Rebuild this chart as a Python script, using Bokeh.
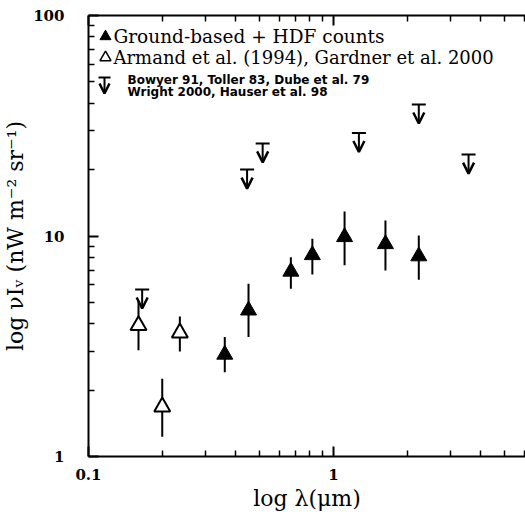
from bokeh.plotting import figure
from bokeh.models import (LogAxis, FixedTicker, CustomJSTickFormatter, ColumnDataSource,
                          Arrow, OpenHead, Label, Range1d)
from bokeh.embed import file_html
from bokeh.resources import INLINE

# ---------------- data ----------------
# Ground-based + HDF counts (filled triangles)
det_wl = [0.36, 0.45, 0.67, 0.82, 1.11, 1.63, 2.23]
det_val = [2.9, 4.6, 6.9, 8.2, 9.9, 9.2, 8.1]
det_lo = [2.41, 3.48, 5.76, 6.69, 7.37, 6.98, 6.33]
det_hi = [3.48, 6.07, 8.01, 9.71, 12.9, 11.75, 10.05]

# Armand et al. (1994), Gardner et al. 2000 (open triangles)
uv_wl = [0.160, 0.200, 0.236]
uv_val = [3.93, 1.68, 3.64]
uv_lo = [3.03, 1.23, 2.99]
uv_hi = [5.1, 2.25, 4.31]

# upper limits
lim_wl = [0.1656, 0.444, 0.514, 1.27, 2.23, 3.56]
lim_val = [5.72, 20.0, 26.3, 29.3, 39.5, 23.4]

x_major = [0.1, 1]
x_minor = [0.2, 0.3, 0.4, 0.5, 0.6, 0.7, 0.8, 0.9, 2, 3, 4, 5, 6]
y_major = [1, 10, 100]
y_minor = [2, 3, 4, 5, 6, 7, 8, 9, 20, 30, 40, 50, 60, 70, 80, 90]

# ---------------- layout helpers ----------------
FL, FT = 88, 15          # frame left / top in px
DX, DY = 245.0, 220.5    # px per decade
def px2x(px):
    return 10 ** ((px - FL) / DX - 1)
def py2y(py):
    return 10 ** ((456 - py) / DY)
ARROW_F = 10 ** (-19 / DY)   # arrow length of upper-limit symbols

SERIF = "DejaVu Serif"

p = figure(width=525, height=515, x_axis_type="log", y_axis_type="log",
           x_range=Range1d(0.1, 6.08), y_range=Range1d(1, 100),
           output_backend="svg", toolbar_location=None,
           min_border_left=88, min_border_right=0, min_border_top=15, min_border_bottom=59)
p.grid.visible = False
p.outline_line_color = None
p.background_fill_color = "white"
p.border_fill_color = "white"

fmt = CustomJSTickFormatter(code="return String(tick)")
blank = CustomJSTickFormatter(code="return ''")

def style_axis(ax, ticks, minor, show_labels):
    ax.ticker = FixedTicker(ticks=ticks, minor_ticks=minor)
    ax.axis_line_width = 2
    ax.axis_line_color = "black"
    ax.major_tick_in = 10
    ax.major_tick_out = 0
    ax.minor_tick_in = 6
    ax.minor_tick_out = 0
    ax.major_tick_line_width = 2
    ax.minor_tick_line_width = 1.5
    if show_labels:
        ax.formatter = fmt
        ax.major_label_text_font = SERIF
        ax.major_label_text_font_style = "bold"
        ax.major_label_text_font_size = "15px"
        ax.major_label_text_color = "black"
    else:
        ax.formatter = blank
        ax.major_label_text_font_size = "1px"
        ax.major_label_standoff = 0

style_axis(p.xaxis[0], x_major, x_minor, True)
style_axis(p.yaxis[0], y_major, y_minor, True)
p.xaxis[0].major_label_standoff = 12
p.yaxis[0].major_label_standoff = 24
p.xaxis[0].axis_label = "log λ(μm)"
p.yaxis[0].axis_label = "log νIᵥ (nW m⁻² sr⁻¹)"
for ax in (p.xaxis[0], p.yaxis[0]):
    ax.axis_label_text_font = SERIF
    ax.axis_label_text_font_style = "normal"
    ax.axis_label_text_color = "black"
p.xaxis[0].axis_label_text_font_size = "22px"
p.yaxis[0].axis_label_text_font_size = "22px"
p.xaxis[0].axis_label_standoff = 3
p.yaxis[0].axis_label_standoff = 2

top = LogAxis()
style_axis(top, x_major, x_minor, False)
p.add_layout(top, "above")

# ---------------- data marks ----------------
det = ColumnDataSource(dict(x=det_wl, y=det_val, lo=det_lo, hi=det_hi))
uv = ColumnDataSource(dict(x=uv_wl, y=uv_val, lo=uv_lo, hi=uv_hi))
lim = ColumnDataSource(dict(x=lim_wl, y=lim_val,
                            yend=[v * ARROW_F for v in lim_val]))

p.segment(x0="x", y0="lo", x1="x", y1="hi", source=det, line_color="black", line_width=2)
p.segment(x0="x", y0="lo", x1="x", y1="hi", source=uv, line_color="black", line_width=2)
p.scatter(x="x", y="y", source=det, marker="triangle", size=16,
          fill_color="black", line_color="black", line_width=1)
p.scatter(x="x", y="y", source=uv, marker="triangle", size=16,
          fill_color="white", line_color="black", line_width=2)

p.scatter(x="x", y="y", source=lim, marker="dash", size=14, line_color="black", line_width=2)
p.add_layout(Arrow(end=OpenHead(size=11, line_width=2.5, line_color="black"),
                   x_start="x", y_start="y", x_end="x", y_end="yend",
                   line_width=2, line_color="black", source=lim))

# ---------------- legend (drawn inside the frame) ----------------
leg1 = ColumnDataSource(dict(x=[px2x(105)], y=[py2y(36)]))
leg2 = ColumnDataSource(dict(x=[px2x(105)], y=[py2y(57)]))
p.scatter(x="x", y="y", source=leg1, marker="triangle", size=11,
          fill_color="black", line_color="black")
p.scatter(x="x", y="y", source=leg2, marker="triangle", size=11,
          fill_color="white", line_color="black", line_width=1.5)
leg3 = ColumnDataSource(dict(x=[px2x(104)], y=[py2y(77)], yend=[py2y(93)]))
p.scatter(x="x", y="y", source=leg3, marker="dash", size=12, line_color="black", line_width=2)
p.add_layout(Arrow(end=OpenHead(size=10, line_width=2.5, line_color="black"),
                   x_start="x", y_start="y", x_end="x", y_end="yend",
                   line_width=2, line_color="black", source=leg3))

def add_text(txt, px, py, size, bold=False, font=SERIF):
    p.add_layout(Label(x=px2x(px), y=py2y(py), text=txt, text_font=font,
                       text_font_size=size, text_baseline="middle", text_align="left",
                       text_color="black", text_font_style="bold" if bold else "normal"))

add_text("Ground-based + HDF counts", 113, 36, "18.5px")
add_text("Armand et al. (1994), Gardner et al. 2000", 113, 57, "18px")
add_text("Bowyer 91, Toller 83, Dube et al. 79", 127, 79, "12px", bold=True, font="DejaVu Sans")
add_text("Wright 2000, Hauser et al. 98", 127, 91, "12px", bold=True, font="DejaVu Sans")

open("out.html", "w").write(file_html(p, INLINE))
